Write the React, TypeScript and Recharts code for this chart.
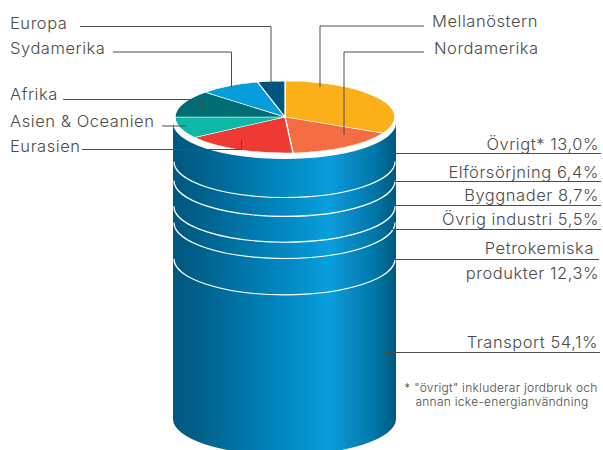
// Olja: reserver per region (tårta) och slutanvändning (cylinder)
import React from 'react'
import { BarChart, Bar, XAxis, YAxis, PieChart, Pie, Cell } from 'recharts'

const regionNames = ['Mellanöstern', 'Nordamerika', 'Eurasien', 'Asien & Oceanien', 'Afrika', 'Sydamerika', 'Europa']
const regionValues = [32.4, 16.4, 16.5, 9.6, 12.1, 8.9, 4.0]
const regionColors = ['#FBB01A', '#F46C42', '#EF3A33', '#0DB8A6', '#006C73', '#069DDC', '#005680']

// nerifrån och upp, i samma ordning som staplingen
const useKeys = ['transport', 'petro', 'industri', 'bygg', 'el', 'ovrigt']
const useValues = [54.1, 12.3, 5.5, 8.7, 6.4, 13.0]

const pieData = regionNames.map((name, i) => ({ name, value: regionValues[i] }))
const stackRow: Record<string, string | number> = { name: 'Slutanvändning' }
useKeys.forEach((k, i) => { stackRow[k] = useValues[i] })

const pct = (v: number) => v.toFixed(1).replace('.', ',') + '%'

const RY = 36

// ett segment av cylindern, med vit ring längs underkanten
function CylinderBand(props: any) {
  const { x, y, width, height, ring } = props
  const rx = width / 2
  const top = y - RY
  const bottom = y + height - RY
  const d = `M${x},${top} L${x},${bottom} A${rx},${RY} 0 0 0 ${x + width},${bottom} L${x + width},${top} A${rx},${RY} 0 0 1 ${x},${top} Z`
  return (
    <g>
      <path d={d} fill="url(#cylinderFill)" />
      {ring && (
        <path
          d={`M${x + 1},${bottom} A${rx - 1},${RY} 0 0 0 ${x + width - 1},${bottom}`}
          fill="none"
          stroke="#fff"
          strokeWidth={1.1}
        />
      )}
    </g>
  )
}

const textColor = '#4a4a4a'
const lineColor = '#4d4d4d'

function Annotations() {
  const label = { fontFamily: 'Inter', fontWeight: 300, fontSize: 16.5, letterSpacing: 0.55, fill: textColor }
  const end = { ...label, textAnchor: 'end' as const }
  const note = { ...label, fontSize: 12, letterSpacing: 0.27, textAnchor: 'middle' as const }
  return (
    <svg width={603} height={450} style={{ position: 'absolute', left: 0, top: 0 }}>
      <g fill="none" stroke={lineColor} strokeWidth={1}>
        <polyline points="80,26.5 271,26.5 271,87" />
        <polyline points="113,52 231.5,52 231.5,87" />
        <polyline points="63,99.5 200.5,99.5 200.5,108" />
        <polyline points="162,126 186,126" />
        <polyline points="82,149.5 241.5,149.5 241.5,140" />
        <polyline points="424,26 320,26 320,87" />
        <polyline points="424,52 344,52 344,135" />
        <polyline points="383,153.5 601,153.5" />
        <polyline points="383,181.5 601,181.5" />
        <polyline points="383,205.5 601,205.5" />
        <polyline points="383,229.5 601,229.5" />
        <polyline points="383,259.5 599,259.5" />
        <polyline points="383,352.5 600,352.5" />
      </g>
      <text x={10} y={28.5} {...label}>{regionNames[6]}</text>
      <text x={10} y={54} {...label}>{regionNames[5]}</text>
      <text x={10} y={100} {...label}>{regionNames[4]}</text>
      <text x={10} y={127} {...label}>{regionNames[3]}</text>
      <text x={10} y={152} {...label}>{regionNames[2]}</text>
      <text x={432} y={26.5} {...label}>{regionNames[0]}</text>
      <text x={434} y={53.5} {...label}>{regionNames[1]}</text>
      <text x={599} y={150} {...end}>Övrigt* {pct(useValues[5])}</text>
      <text x={599} y={178} {...end}>Elförsörjning {pct(useValues[4])}</text>
      <text x={599} y={201} {...end}>Byggnader {pct(useValues[3])}</text>
      <text x={599} y={225} {...end}>Övrig industri {pct(useValues[2])}</text>
      <text x={594} y={254} {...end}>Petrokemiska</text>
      <text x={599} y={278.5} {...end}>produkter {pct(useValues[1])}</text>
      <text x={598} y={347.5} {...end}>Transport {pct(useValues[0])}</text>
      <text x={501} y={391.5} {...note}>* "övrigt" inkluderar jordbruk och</text>
      <text x={502} y={406} {...note}>annan icke-energianvändning</text>
    </svg>
  )
}

export default function App() {
  return (
    <div style={{ position: 'absolute', left: 0, top: 0, width: 603, height: 450, overflow: 'hidden', background: '#fff' }}>
      <style>{`.recharts-pie-sector path { vector-effect: non-scaling-stroke; }`}</style>
      <div style={{ position: 'absolute', left: 0, top: 0 }}>
        <BarChart
          width={603}
          height={470}
          data={[stackRow]}
          margin={{ top: 159, right: 207, bottom: 15, left: 173 }}
          barCategoryGap={0}
        >
          <defs>
            <linearGradient id="cylinderFill" x1="0" y1="0" x2="1" y2="0">
              <stop offset="0" stopColor="#00587F" />
              <stop offset="0.1" stopColor="#005F88" />
              <stop offset="0.45" stopColor="#0083BC" />
              <stop offset="0.7" stopColor="#089EDC" />
              <stop offset="0.78" stopColor="#0A8CC8" />
              <stop offset="0.9" stopColor="#0078AA" />
              <stop offset="1" stopColor="#00587F" />
            </linearGradient>
          </defs>
          <XAxis dataKey="name" hide />
          <YAxis hide domain={[0, 100]} />
          {useKeys.map((k, i) => (
            <Bar
              key={k}
              dataKey={k}
              stackId="use"
              isAnimationActive={false}
              shape={(p: any) => <CylinderBand {...p} ring={i > 0} />}
            />
          ))}
        </BarChart>
      </div>
      <div style={{ position: 'absolute', left: 164.5, top: -2.7, width: 240, height: 240, transform: 'scaleY(0.327)', transformOrigin: 'center' }}>
        <PieChart width={240} height={240} margin={{ top: 0, right: 0, bottom: 0, left: 0 }}>
          <Pie
            data={pieData}
            dataKey="value"
            cx={120}
            cy={120}
            innerRadius={0}
            outerRadius={110}
            startAngle={90}
            endAngle={-270}
            stroke="#fff"
            strokeWidth={1.3}
            isAnimationActive={false}
          >
            {regionColors.map((c, i) => (
              <Cell key={regionNames[i]} fill={c} />
            ))}
          </Pie>
        </PieChart>
      </div>
      <Annotations />
    </div>
  )
}
